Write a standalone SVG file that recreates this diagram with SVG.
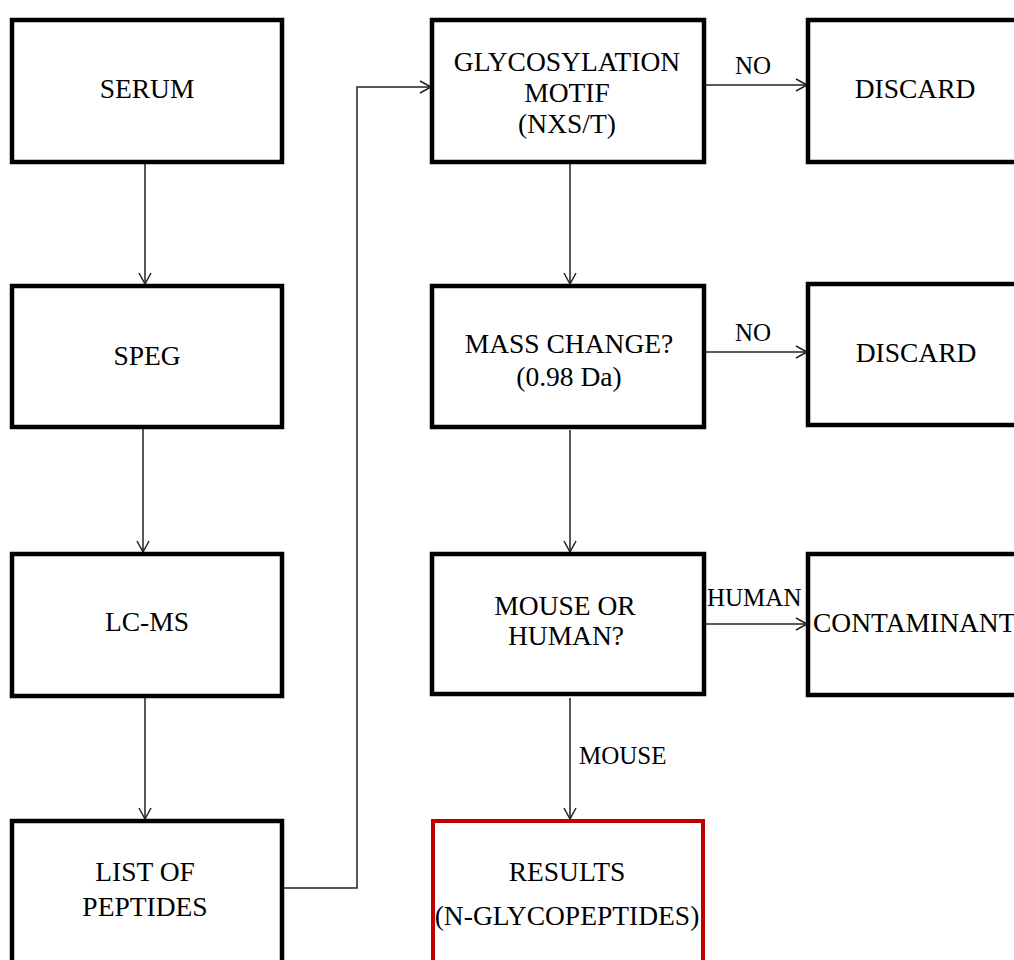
<svg xmlns="http://www.w3.org/2000/svg" width="1014" height="960" viewBox="0 0 1014 960">
<defs>
<marker id="ah" markerWidth="14" markerHeight="14" refX="12" refY="7" orient="auto" markerUnits="userSpaceOnUse">
<path d="M1,1 L12,7 L1,13" fill="none" stroke="#222" stroke-width="1.5"/>
</marker>
<style>
.box{fill:#fff;stroke:#000;stroke-width:4.5}
.red{fill:#fff;stroke:#c00000;stroke-width:4}
.t{font-family:"Liberation Serif","Times New Roman",serif;font-size:27.5px;fill:#000;text-anchor:middle}
.l{font-family:"Liberation Serif","Times New Roman",serif;font-size:25px;fill:#000}
.c{fill:none;stroke:#222;stroke-width:1.5}
</style>
</defs>
<rect width="1014" height="960" fill="#fff"/>
<g id="connectors">
<line class="c" x1="145" y1="163" x2="145" y2="284" marker-end="url(#ah)"/>
<line class="c" x1="143" y1="428" x2="143" y2="552" marker-end="url(#ah)"/>
<line class="c" x1="145" y1="697" x2="145" y2="819" marker-end="url(#ah)"/>
<polyline class="c" points="283,888 357,888 357,87 431,87" marker-end="url(#ah)"/>
<line class="c" x1="570" y1="164" x2="570" y2="284" marker-end="url(#ah)"/>
<line class="c" x1="570" y1="430" x2="570" y2="552" marker-end="url(#ah)"/>
<line class="c" x1="570" y1="698" x2="570" y2="819" marker-end="url(#ah)"/>
<line class="c" x1="706" y1="85" x2="807" y2="85" marker-end="url(#ah)"/>
<line class="c" x1="706" y1="352" x2="807" y2="352" marker-end="url(#ah)"/>
<line class="c" x1="706" y1="624" x2="807" y2="624" marker-end="url(#ah)"/>
<text class="l" x="735" y="74">NO</text>
<text class="l" x="735" y="341">NO</text>
<text class="l" x="707" y="606">HUMAN</text>
<text class="l" x="579" y="764">MOUSE</text>
</g>
<g id="serum"><rect class="box" x="12" y="20" width="270" height="142"/><text class="t" x="147" y="98">SERUM</text></g>
<g id="speg"><rect class="box" x="12" y="286" width="270" height="141"/><text class="t" x="147" y="365">SPEG</text></g>
<g id="lcms"><rect class="box" x="12" y="554" width="270" height="142"/><text class="t" x="147" y="631">LC-MS</text></g>
<g id="peptides"><rect class="box" x="12" y="821" width="270" height="160"/><text class="t" x="145" y="881">LIST OF</text><text class="t" x="145" y="916">PEPTIDES</text></g>
<g id="glyco"><rect class="box" x="432" y="20" width="272" height="142"/><text class="t" x="567" y="71">GLYCOSYLATION</text><text class="t" x="567" y="102">MOTIF</text><text class="t" x="567" y="133">(NXS/T)</text></g>
<g id="discard1"><rect class="box" x="808" y="20" width="230" height="142"/><text class="t" x="915" y="98">DISCARD</text></g>
<g id="mass"><rect class="box" x="432" y="286" width="272" height="141"/><text class="t" x="569" y="353">MASS CHANGE?</text><text class="t" x="569" y="386">(0.98 Da)</text></g>
<g id="discard2"><rect class="box" x="808" y="284" width="230" height="141"/><text class="t" x="916" y="362">DISCARD</text></g>
<g id="species"><rect class="box" x="432" y="554" width="272" height="140"/><text class="t" x="565" y="615">MOUSE OR</text><text class="t" x="566" y="645">HUMAN?</text></g>
<g id="contaminant"><rect class="box" x="808" y="554" width="230" height="141"/><text class="t" x="813" y="632" style="text-anchor:start">CONTAMINANT</text></g>
<g id="results"><rect class="red" x="433" y="821" width="270" height="160"/><text class="t" x="567" y="881">RESULTS</text><text class="t" x="567" y="925">(N-GLYCOPEPTIDES)</text></g>
</svg>
